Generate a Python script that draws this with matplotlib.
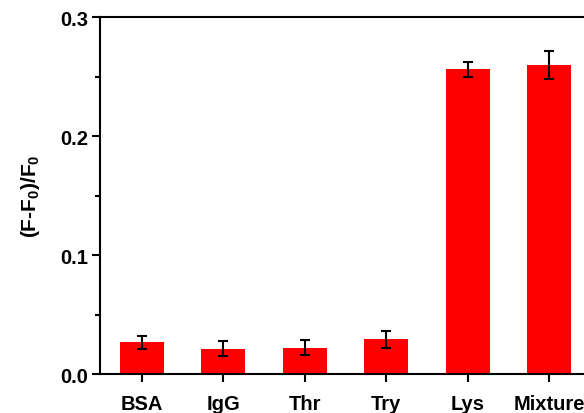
import matplotlib
matplotlib.use("Agg")
import matplotlib.pyplot as plt
from matplotlib.ticker import MultipleLocator

plt.rcParams['font.family'] = 'Liberation Sans'
plt.rcParams['font.weight'] = 'bold'
plt.rcParams['mathtext.fontset'] = 'custom'
plt.rcParams['mathtext.rm'] = 'Liberation Sans:bold'
plt.rcParams['mathtext.it'] = 'Liberation Sans:bold'
plt.rcParams['mathtext.bf'] = 'Liberation Sans:bold'

# data
labels = ['BSA', 'IgG', 'Thr', 'Try', 'Lys', 'Mixture']
values = [0.0265, 0.0213, 0.0222, 0.0290, 0.2560, 0.2600]
errors = [0.0052, 0.0062, 0.0060, 0.0068, 0.0062, 0.0118]

fig = plt.figure(figsize=(5.84, 4.14), dpi=100)
# right edge of the axes sits just past the figure edge (cropped in the original)
ax = fig.add_axes([0.1712, 0.0942, 0.839, 0.8623])

pos = list(range(1, len(labels) + 1))
ax.bar(pos, values, width=0.54, color='#ff0000', zorder=2)
ax.errorbar(pos, values, yerr=errors, fmt='none', ecolor='black',
            elinewidth=1.5, capsize=3.5, capthick=1.5, zorder=3)

ax.set_xlim(0.485, 6.5)
ax.set_ylim(0, 0.3)
ax.set_xticks(pos)
ax.set_xticklabels(labels)
ax.yaxis.set_major_locator(MultipleLocator(0.1))
ax.yaxis.set_minor_locator(MultipleLocator(0.05))
ax.yaxis.set_major_formatter(plt.FormatStrFormatter('%.1f'))

for s in ax.spines.values():
    s.set_linewidth(1.5)
ax.spines['right'].set_visible(False)

ax.tick_params(axis='both', which='major', direction='out', length=5.5,
               width=1.5, labelsize=14.5, pad=3)
ax.tick_params(axis='x', which='major', pad=9)
ax.tick_params(axis='y', which='minor', direction='out', length=3.5, width=1.5)

ax.set_ylabel('(F-F$_0$)/F$_0$', fontsize=15, fontweight='bold', labelpad=13)

fig.savefig('out.png', dpi=100)
